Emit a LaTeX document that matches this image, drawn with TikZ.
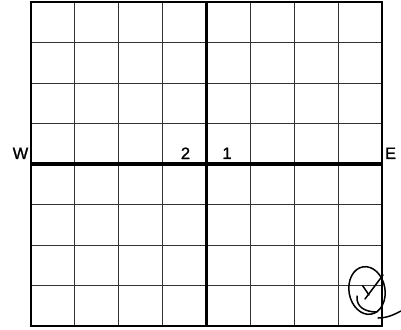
\documentclass[tikz,border=0pt]{standalone}
\usepackage{fontspec}
\setmainfont{Liberation Sans}
\newfontfamily\lblfont[FakeBold=1.2]{Liberation Sans}
\begin{document}
\begin{tikzpicture}[x=1pt,y=-1pt,
  gridline/.style={line width=1pt, black!80},
  borderline/.style={line width=2.2pt, black},
  axisline/.style={line width=3.5pt, black},
  lbl/.style={font=\lblfont\fontsize{16.5}{18}\selectfont, inner sep=0pt},
  ink/.style={line width=1.5pt, black, line cap=round, line join=round}]
\useasboundingbox (0,0) rectangle (401,329);
\fill[white] (0,0) rectangle (401,329);
% inner grid
\foreach \i in {1,2,3,5,6,7} {
  \draw[gridline] ({31+\i*43.875},2) -- ({31+\i*43.875},326);
  \draw[gridline] (31,{2+\i*40.5}) -- (382,{2+\i*40.5});
}
% axes
\draw[axisline] (31,164) -- (382,164);
\draw[axisline] (206.5,2) -- (206.5,326);
% border
\draw[borderline] (31,2) rectangle (382,326);
% labels
\node[lbl] (w) at (20.5,153.3) {W};
\node[lbl] (e) at (390.5,153.3) {E};
\node[lbl] (two) at (185.5,153.3) {2};
\node[lbl] (one) at (227,153.3) {1};
% handwritten mark
\draw[ink, rotate around={10:(367,290.5)}] (367,290.5) ellipse [x radius=18, y radius=24];
\draw[ink] (357,296) .. controls (356,307) and (365,312) .. (377,312);
\draw[ink] (378,318) .. controls (388,318) and (395,314) .. (401,311);
\draw[ink] (362.5,285.5) -- (369,295);
\draw[ink] (365,299) -- (383,275);
\end{tikzpicture}
\end{document}
